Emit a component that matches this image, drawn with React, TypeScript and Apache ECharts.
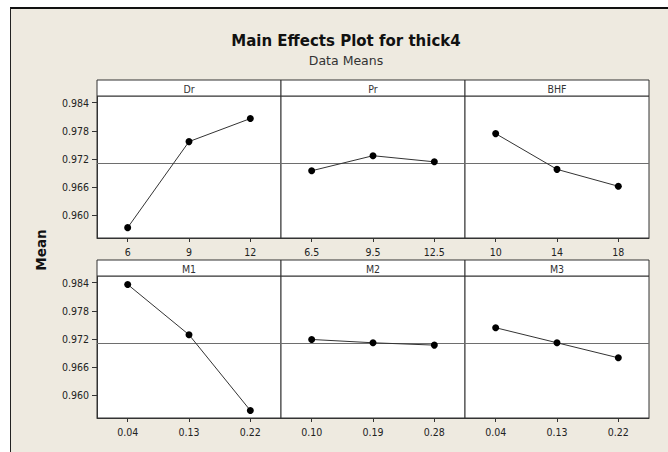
import React, { useEffect, useRef } from "react";
import * as echarts from "echarts";

const factorNames = ["Dr", "Pr", "BHF", "M1", "M2", "M3"];
const drLevels = ["6", "9", "12"];
const prLevels = ["6.5", "9.5", "12.5"];
const bhfLevels = ["10", "14", "18"];
const m1Levels = ["0.04", "0.13", "0.22"];
const m2Levels = ["0.10", "0.19", "0.28"];
const m3Levels = ["0.04", "0.13", "0.22"];

const drMeans = [0.9574, 0.9757, 0.9806];
const prMeans = [0.9695, 0.9727, 0.9714];
const bhfMeans = [0.9774, 0.9698, 0.9662];
const m1Means = [0.9836, 0.9729, 0.9568];
const m2Means = [0.9719, 0.9712, 0.9707];
const m3Means = [0.9744, 0.9712, 0.968];

const grandMean = 0.97118;
const yTicks = [0.96, 0.966, 0.972, 0.978, 0.984];
const yMin = 0.9552;
const yMax = 0.9854;

const levelsList = [drLevels, prLevels, bhfLevels, m1Levels, m2Levels, m3Levels];
const meansList = [drMeans, prMeans, bhfMeans, m1Means, m2Means, m3Means];

const FONT = "'DejaVu Sans Condensed', 'DejaVu Sans', sans-serif";
const FONT_WIDE = "'DejaVu Sans', sans-serif";

export default function App() {
  const ref = useRef<HTMLDivElement>(null);

  useEffect(() => {
    if (!ref.current) return;
    const chart = echarts.init(ref.current, undefined, { renderer: "svg" });

    const colLeft = [97, 281, 465];
    const rowTop = [96, 276];
    const stripTop = [80, 260];
    const W = 184;
    const H = 142;

    const grids: any[] = [];
    const xAxes: any[] = [];
    const yAxes: any[] = [];
    const series: any[] = [];
    const graphics: any[] = [];

    factorNames.forEach((name, i) => {
      const c = i % 3;
      const r = Math.floor(i / 3);
      grids.push({
        left: colLeft[c],
        top: rowTop[r],
        width: W,
        height: H,
        show: true,
        backgroundColor: "#ffffff",
        borderColor: "#333333",
        borderWidth: 1,
      });
      xAxes.push({
        gridIndex: i,
        type: "category",
        data: levelsList[i],
        boundaryGap: true,
        axisLine: { show: true, lineStyle: { color: "#333333", width: 1 } },
        axisTick: { show: true, alignWithLabel: true, length: 4, lineStyle: { color: "#333333" } },
        axisLabel: { fontSize: 10.5, color: "#222222", margin: 8, fontFamily: FONT },
        splitLine: { show: false },
      });
      yAxes.push({
        gridIndex: i,
        type: "value",
        min: yMin,
        max: yMax,
        axisLine: { show: c === 0, lineStyle: { color: "#333333" } },
        axisTick: {
          show: c === 0,
          length: 5,
          customValues: yTicks,
          lineStyle: { color: "#333333" },
        },
        axisLabel: {
          show: c === 0,
          customValues: yTicks,
          fontSize: 10.5,
          color: "#222222",
          margin: 8,
          fontFamily: FONT,
          formatter: (v: number) => v.toFixed(3),
        },
        splitLine: { show: false },
      });
      series.push({
        type: "line",
        name,
        xAxisIndex: i,
        yAxisIndex: i,
        data: meansList[i],
        symbol: "circle",
        symbolSize: 7,
        itemStyle: { color: "#000000" },
        lineStyle: { color: "#333333", width: 1 },
        z: 5,
        markLine: {
          silent: true,
          symbol: "none",
          precision: 6,
          label: { show: false },
          lineStyle: { color: "#6e6e6e", type: "solid", width: 1.2 },
          data: [{ yAxis: grandMean }],
          z: 3,
        },
      });
      graphics.push({
        type: "rect",
        shape: { x: colLeft[c], y: stripTop[r], width: W, height: rowTop[r] - stripTop[r] },
        style: { fill: "#ffffff", stroke: "#333333", lineWidth: 1 },
        z: 10,
      });
      graphics.push({
        type: "text",
        x: colLeft[c] + W / 2,
        y: stripTop[r] + (rowTop[r] - stripTop[r]) / 2 + 0.5,
        style: {
          text: name,
          align: "center",
          verticalAlign: "middle",
          fontSize: 10.5,
          fontFamily: FONT,
          fill: "#333333",
        },
        z: 11,
      });
    });

    graphics.push({
      type: "text",
      x: 346,
      y: 41,
      style: {
        text: "Main Effects Plot for thick4",
        align: "center",
        verticalAlign: "middle",
        fontSize: 15,
        fontWeight: "bold",
        fontFamily: FONT_WIDE,
        fill: "#111111",
      },
      z: 11,
    });
    graphics.push({
      type: "text",
      x: 346,
      y: 60,
      style: {
        text: "Data Means",
        align: "center",
        verticalAlign: "middle",
        fontSize: 12.5,
        fontFamily: FONT_WIDE,
        fill: "#333333",
      },
      z: 11,
    });
    graphics.push({
      type: "text",
      x: 41,
      y: 250,
      rotation: Math.PI / 2,
      style: {
        text: "Mean",
        align: "center",
        verticalAlign: "middle",
        fontSize: 13.5,
        fontWeight: "bold",
        fontFamily: FONT_WIDE,
        fill: "#111111",
      },
      z: 11,
    });

    chart.setOption({
      animation: false,
      backgroundColor: "transparent",
      grid: grids,
      xAxis: xAxes,
      yAxis: yAxes,
      series,
      graphic: graphics,
    });

    return () => chart.dispose();
  }, []);

  return (
    <div style={{ position: "fixed", left: 0, top: 0, width: 668, height: 452, background: "#ffffff", overflow: "hidden" }}>
      <div
        style={{
          position: "absolute",
          left: 10,
          top: 7,
          width: 700,
          height: 500,
          background: "#EEEAE0",
          borderLeft: "1px solid #222",
          borderTop: "2px solid #111",
          boxSizing: "border-box",
        }}
      />
      <div ref={ref} style={{ position: "absolute", left: 0, top: 0, width: 668, height: 452 }} />
    </div>
  );
}
